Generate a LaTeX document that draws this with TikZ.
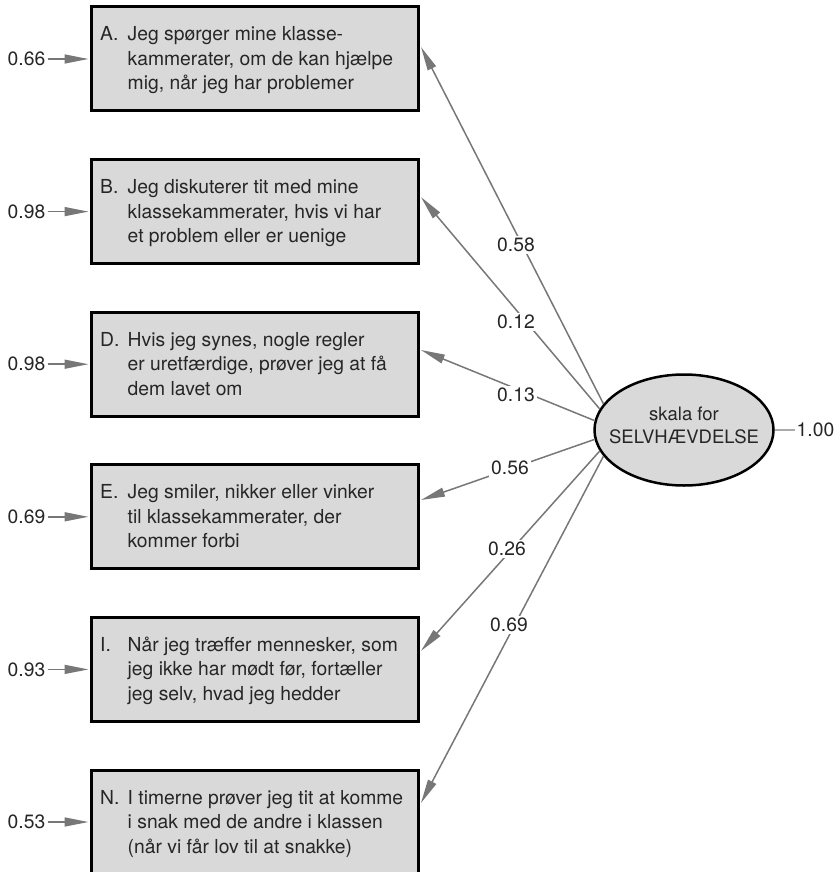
\documentclass[tikz,border=0pt]{standalone}
\usepackage{fontspec}
\setmainfont{TeX Gyre Heros}
\usetikzlibrary{arrows.meta,shapes.geometric}
\definecolor{boxfill}{HTML}{D9D9D9}
\definecolor{linegray}{HTML}{777777}
\definecolor{txtgray}{HTML}{262626}
\definecolor{lightline}{HTML}{AAAAAA}
\begin{document}
\begin{tikzpicture}[x=1pt,y=-1pt,
 itembox/.style={draw=black, line width=3pt, fill=boxfill, rectangle, minimum width=326.5pt, minimum height=104pt, inner sep=0pt, anchor=north west},
 itemtext/.style={anchor=base west, inner sep=0pt, text=txtgray, font=\fontsize{19.3}{24.5}\selectfont},
 coef/.style={fill=white, inner sep=2.5pt, text=txtgray, font=\fontsize{19.3}{23}\selectfont},
 errlab/.style={anchor=east, inner sep=2pt, text=txtgray, font=\fontsize{19.3}{23}\selectfont},
 load/.style={draw=linegray, line width=1.5pt, -{Triangle[length=24pt,width=9pt,fill=linegray]}},
 errarrow/.style={load, shorten >=1.5pt},
 latent/.style={ellipse, draw=black, line width=2.5pt, fill=boxfill, minimum width=179pt, minimum height=111pt, inner sep=0pt}
]
\useasboundingbox (0,0) rectangle (838,872);

% item boxes
\node[itembox] (bA) at (90,5.5) {};
\node[itembox] (bB) at (90,158.1) {};
\node[itembox] (bD) at (90,310.7) {};
\node[itembox] (bE) at (90,463.3) {};
\node[itembox] (bI) at (90,615.9) {};
\node[itembox] (bN) at (90,768.5) {};

% item texts
\node[itemtext] (tA) at (100,41) {\begin{tabular}[t]{@{}l@{}l@{}}\makebox[27.5pt][l]{A.} & Jeg spørger mine klasse-\\ & kammerater, om de kan hjælpe\\ & mig, når jeg har problemer\end{tabular}};
\node[itemtext] (tB) at (100,193.6) {\begin{tabular}[t]{@{}l@{}l@{}}\makebox[27.5pt][l]{B.} & Jeg diskuterer tit med mine\\ & klassekammerater, hvis vi har\\ & et problem eller er uenige\end{tabular}};
\node[itemtext] (tD) at (100,346.2) {\begin{tabular}[t]{@{}l@{}l@{}}\makebox[27.5pt][l]{D.} & Hvis jeg synes, nogle regler\\ & er uretfærdige, prøver jeg at få\\ & dem lavet om\end{tabular}};
\node[itemtext] (tE) at (100,498.8) {\begin{tabular}[t]{@{}l@{}l@{}}\makebox[27.5pt][l]{E.} & Jeg smiler, nikker eller vinker\\ & til klassekammerater, der\\ & kommer forbi\end{tabular}};
\node[itemtext] (tI) at (100,651.4) {\begin{tabular}[t]{@{}l@{}l@{}}\makebox[27.5pt][l]{I.} & Når jeg træffer mennesker, som\\ & jeg ikke har mødt før, fortæller\\ & jeg selv, hvad jeg hedder\end{tabular}};
\node[itemtext] (tN) at (100,804) {\begin{tabular}[t]{@{}l@{}l@{}}\makebox[27.5pt][l]{N.} & I timerne prøver jeg tit at komme\\ & i snak med de andre i klassen\\ & (når vi får lov til at snakke)\end{tabular}};

% error terms
\path (bA.west) ++(-42.5,0) node[errlab] (eA) {0.66};
\path (bB.west) ++(-42.5,0) node[errlab] (eB) {0.98};
\path (bD.west) ++(-42.5,0) node[errlab] (eD) {0.98};
\path (bE.west) ++(-42.5,0) node[errlab] (eE) {0.69};
\path (bI.west) ++(-42.5,0) node[errlab] (eI) {0.93};
\path (bN.west) ++(-42.5,0) node[errlab] (eN) {0.53};
\draw[errarrow] (eA) -- (bA.west);
\draw[errarrow] (eB) -- (bB.west);
\draw[errarrow] (eD) -- (bD.west);
\draw[errarrow] (eE) -- (bE.west);
\draw[errarrow] (eI) -- (bI.west);
\draw[errarrow] (eN) -- (bN.west);

% latent variable
\node[latent] (ell) at (684,430) {};
\node[anchor=base, inner sep=0pt, text=txtgray, font=\fontsize{18.5}{23.5}\selectfont] (ellText) at (684,420) {\begin{tabular}[t]{@{}c@{}}skala for\\SELVHÆVDELSE\end{tabular}};

% loadings
\draw[load] (ell.162) -- ([xshift=1.5pt,yshift=-41.5pt]bA.north east);
\draw[load] (ell.166) -- ([xshift=1.5pt,yshift=-39pt]bB.north east);
\draw[load] (ell.174) -- ([xshift=1.5pt,yshift=-39.3pt]bD.north east);
\draw[load] (ell.186) -- ([xshift=1.5pt,yshift=-36.7pt]bE.north east);
\draw[load] (ell.194) -- ([xshift=1.5pt,yshift=-35pt]bI.north east);
\draw[load] (ell.198) -- ([xshift=1.5pt,yshift=-34.5pt]bN.north east);

\node[coef] (cA) at (516,245) {0.58};
\node[coef] (cB) at (516,322) {0.12};
\node[coef] (cD) at (516,395) {0.13};
\node[coef] (cE) at (510,468) {0.56};
\node[coef] (cI) at (507,549) {0.26};
\node[coef] (cN) at (509,625) {0.69};

% residual of latent
\node[anchor=west, inner sep=1.5pt, text=txtgray, font=\fontsize{19.3}{23}\selectfont] (resid) at (795,430) {1.00};
\draw[lightline, line width=1.2pt] (ell.east) -- (resid.west);
\end{tikzpicture}
\end{document}
